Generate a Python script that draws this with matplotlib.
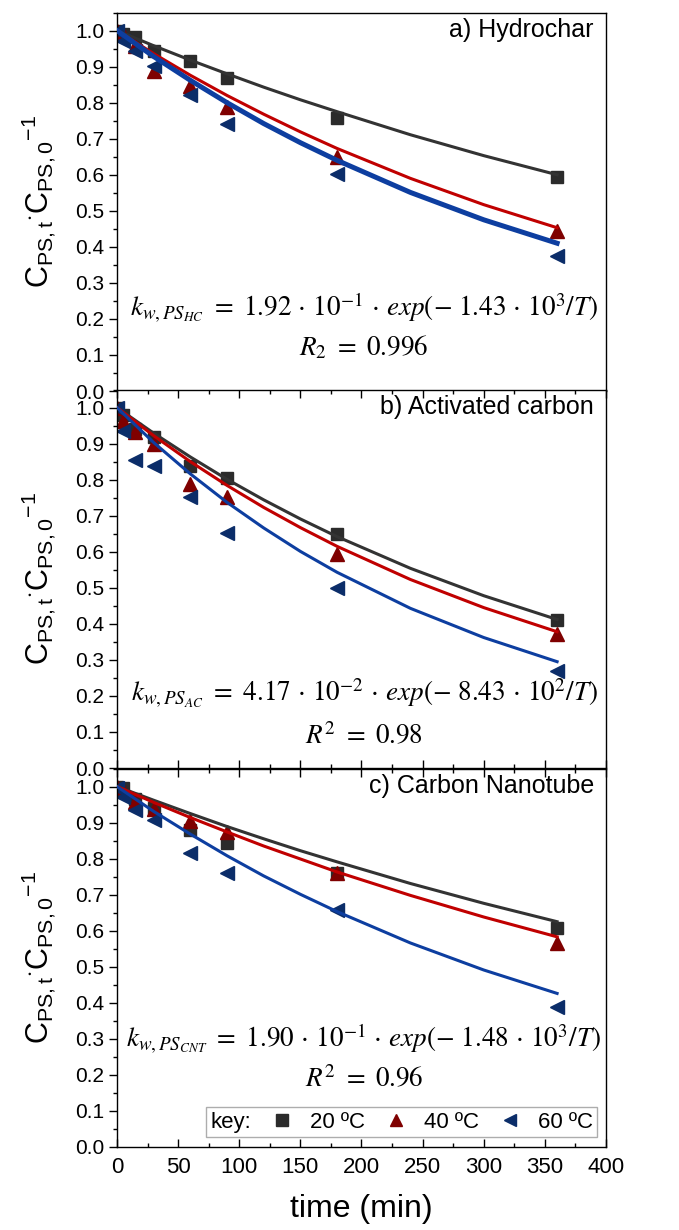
import matplotlib
matplotlib.use("Agg")
import matplotlib.pyplot as plt
from matplotlib.lines import Line2D
from matplotlib.ticker import MultipleLocator, FormatStrFormatter

plt.rcParams["font.family"] = ["Liberation Sans", "DejaVu Sans"]
plt.rcParams["mathtext.fontset"] = "custom"
plt.rcParams["mathtext.rm"] = "Liberation Sans"
plt.rcParams["mathtext.it"] = "Liberation Sans:italic"

# measured points
t_data = [0, 5, 15, 30, 60, 90, 180, 360]
hc_20 = [1.0, 0.99, 0.981, 0.944, 0.915, 0.868, 0.757, 0.593]
hc_40 = [1.0, 0.99, 0.956, 0.887, 0.847, 0.789, 0.65, 0.444]
hc_60 = [1.0, 0.972, 0.944, 0.903, 0.82, 0.741, 0.602, 0.375]
ac_20 = [1.0, 0.98, 0.94, 0.918, 0.837, 0.805, 0.648, 0.412]
ac_40 = [1.0, 0.964, 0.932, 0.90, 0.789, 0.752, 0.593, 0.371]
ac_60 = [1.0, 0.935, 0.855, 0.839, 0.752, 0.652, 0.50, 0.27]
cnt_20 = [1.0, 0.995, 0.965, 0.94, 0.88, 0.843, 0.759, 0.608]
cnt_40 = [1.0, 0.99, 0.958, 0.937, 0.903, 0.875, 0.759, 0.566]
cnt_60 = [0.995, 0.972, 0.935, 0.907, 0.815, 0.759, 0.657, 0.389]

# fitted curves
t_fit = [0, 30, 60, 90, 120, 150, 180, 240, 300, 360]
hc_20_fit = [1.0, 0.958, 0.918, 0.880, 0.843, 0.808, 0.775, 0.711, 0.653, 0.600]
hc_40_fit = [1.0, 0.936, 0.876, 0.820, 0.768, 0.719, 0.673, 0.590, 0.517, 0.453]
hc_60_fit = [1.0, 0.928, 0.862, 0.800, 0.742, 0.689, 0.640, 0.551, 0.475, 0.410]
ac_20_fit = [1.0, 0.929, 0.863, 0.801, 0.744, 0.691, 0.642, 0.554, 0.478, 0.412]
ac_40_fit = [1.0, 0.922, 0.850, 0.784, 0.723, 0.667, 0.615, 0.523, 0.445, 0.378]
ac_60_fit = [1.0, 0.903, 0.816, 0.737, 0.666, 0.601, 0.543, 0.443, 0.362, 0.295]
cnt_20_fit = [1.0, 0.962, 0.925, 0.889, 0.855, 0.822, 0.791, 0.731, 0.676, 0.625]
cnt_40_fit = [1.0, 0.956, 0.914, 0.874, 0.835, 0.799, 0.763, 0.698, 0.638, 0.583]
cnt_60_fit = [1.0, 0.931, 0.868, 0.808, 0.752, 0.701, 0.653, 0.566, 0.491, 0.426]

temps = ["20 ºC", "40 ºC", "60 ºC"]
titles = ["a) Hydrochar", "b) Activated carbon", "c) Carbon Nanotube"]
equations = [
    r"$k_{w,PS_{HC}}\ =\ 1.92\,\cdot\,10^{-1}\,\cdot\,exp(-\ 1.43\,\cdot\,10^{3}/T)$",
    r"$k_{w,PS_{AC}}\ =\ 4.17\,\cdot\,10^{-2}\,\cdot\,exp(-\ 8.43\,\cdot\,10^{2}/T)$",
    r"$k_{w,PS_{CNT}}\ =\ 1.90\,\cdot\,10^{-1}\,\cdot\,exp(-\ 1.48\,\cdot\,10^{3}/T)$",
]
r_texts = [r"$R_{2}\ =\ 0.996$", r"$R^{2}\ =\ 0.98$", r"$R^{2}\ =\ 0.96$"]

points = [(hc_20, hc_40, hc_60), (ac_20, ac_40, ac_60), (cnt_20, cnt_40, cnt_60)]
fits = [(hc_20_fit, hc_40_fit, hc_60_fit), (ac_20_fit, ac_40_fit, ac_60_fit),
        (cnt_20_fit, cnt_40_fit, cnt_60_fit)]

marker_colors = ["#2b2b2b", "#7f0000", "#0b2d69"]
line_colors = ["#333333", "#c00000", "#0d3ea0"]
markers = ["s", "^", "<"]
msizes = [9, 10, 10]
eq_y = [(0.222, 0.116), (0.197, 0.083), (0.288, 0.177)]

fig = plt.figure(figsize=(6.79, 12.3), dpi=100)
left, width, h = 0.1723, 0.7202, 0.3077
bottoms = [0.6821, 0.3756, 0.0675]

for i in range(3):
    ax = fig.add_axes([left, bottoms[i], width, h])
    for j in range(3):
        ax.plot(t_data, points[i][j], linestyle="none", marker=markers[j],
                color=marker_colors[j], markersize=msizes[j], zorder=2)
        lw = 3.6 if (i == 0 and j == 2) else 2.2
        ax.plot(t_fit, fits[i][j], color=line_colors[j], linewidth=lw, zorder=3)

    ax.set_xlim(0, 400)
    ax.set_ylim(0, 1.05)
    ax.xaxis.set_major_locator(MultipleLocator(50))
    ax.xaxis.set_minor_locator(MultipleLocator(25))
    ax.yaxis.set_major_locator(MultipleLocator(0.1))
    ax.yaxis.set_minor_locator(MultipleLocator(0.05))
    ax.yaxis.set_major_formatter(FormatStrFormatter("%.1f"))
    show_x = i > 0
    ax.tick_params(axis="x", which="both", direction="in", top=show_x,
                   bottom=show_x, pad=7)
    ax.tick_params(axis="x", which="major", length=6, width=1)
    ax.tick_params(axis="x", which="minor", length=3, width=1)
    ax.tick_params(axis="y", which="major", direction="out", length=6, width=1,
                   right=False, pad=3)
    ax.tick_params(axis="y", which="minor", direction="out", length=3, width=1)
    ax.tick_params(axis="y", labelsize=15)
    ax.tick_params(axis="x", labelsize=16)
    if i < 2:
        ax.tick_params(axis="x", labelbottom=False)
    for s in ax.spines.values():
        s.set_linewidth(1.0)

    ax.set_ylabel(r"$\mathregular{C_{PS,t}{}^{\cdot}C_{PS,0}{}^{-1}}$", fontsize=22)
    ax.yaxis.set_label_coords(-0.12, 0.5)

    ax.text(0.975, 0.953, titles[i], transform=ax.transAxes, ha="right",
            va="center", fontsize=18)
    ax.text(0.505, eq_y[i][0], equations[i], transform=ax.transAxes, ha="center",
            va="center", fontsize=19.5, math_fontfamily="stix")
    ax.text(0.505, eq_y[i][1], r_texts[i], transform=ax.transAxes, ha="center",
            va="center", fontsize=19.5, math_fontfamily="stix")

    if i == 2:
        ax.set_xlabel("time (min)", fontsize=23, labelpad=12)
        handles = [Line2D([], [], linestyle="none", marker="none")]
        for j in range(3):
            handles.append(Line2D([], [], linestyle="none", marker=markers[j],
                                  color=marker_colors[j], markersize=msizes[j] - 1))
        leg = ax.legend(handles, ["key:"] + temps, ncol=4, loc="lower right",
                        bbox_to_anchor=(0.982, 0.026), borderaxespad=0,
                        fontsize=16, frameon=True, fancybox=False,
                        edgecolor="#999999", handlelength=0.8,
                        handletextpad=0.85, columnspacing=1.0, borderpad=0.2)
        leg.get_frame().set_linewidth(1.0)
        # drop the empty handle space in front of "key:"
        first = leg._legend_handle_box.get_children()[0].get_children()[0]
        first.get_children()[0].width = 0
        first.sep = 0

fig.savefig("out.png", dpi=100)
